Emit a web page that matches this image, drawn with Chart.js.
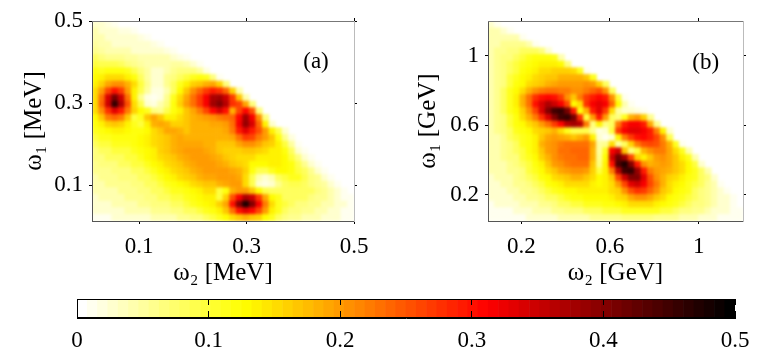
<!DOCTYPE html>
<html>
<head>
<meta charset="utf-8">
<script src="https://cdn.jsdelivr.net/npm/chart.js@4/dist/chart.umd.min.js"></script>
<style>
  body { margin: 0; background: #fff; width: 772px; height: 362px; overflow: hidden; position: relative; }
  canvas { position: absolute; }
</style>
</head>
<body>
<canvas id="panelA" width="400" height="290" style="left:0;top:0"></canvas>
<canvas id="panelB" width="372" height="290" style="left:400px;top:0"></canvas>
<canvas id="colorBar" width="772" height="77" style="left:0;top:285px"></canvas>
<script>
// cell centres
var omega2A = [.0186,.0308,.043,.0552,.0674,.0795,.0917,.1039,.1161,.1283,.1405,.1527,.1648,.177,.1892,.2014,.2136,.2258,.238,.2502,.2623,.2745,.2867,.2989,.3111,.3233,.3355,.3477,.3598,.372,.3842,.3964,.4086,.4208,.433,.4452,.4573,.4695,.4817,.4939];
var omega1A = [.4919,.4756,.4594,.4431,.4269,.4106,.3944,.3781,.3619,.3456,.3294,.3131,.2969,.2806,.2644,.2481,.2319,.2156,.1994,.1831,.1669,.1506,.1344,.1181,.1019,.0856,.0694,.0531,.0369,.0206];
var omega2B = [.0644,.0931,.1219,.1506,.1794,.2081,.2369,.2656,.2944,.3231,.3519,.3806,.4094,.4381,.4669,.4956,.5244,.5531,.5819,.6106,.6394,.6681,.6969,.7256,.7544,.7831,.8119,.8406,.8694,.8981,.9269,.9556,.9844,1.0131,1.0419,1.0706,1.0994,1.1281,1.1569,1.1856];
var omega1B = [1.1808,1.1425,1.1042,1.0658,1.0275,.9892,.9508,.9125,.8742,.8358,.7975,.7592,.7208,.6825,.6442,.6058,.5675,.5292,.4908,.4525,.4142,.3758,.3375,.2992,.2608,.2225,.1842,.1458,.1075,.0692];

// estimated intensity in units of 0.01, top row first, rows stop at the white edge
var intensityA = [
  [3,3,2,1],
  [4,3,3,3,2,2,1],
  [4,4,3,3,3,3,3,2,1],
  [5,4,4,3,3,3,3,3,3,2,1],
  [6,5,4,4,4,4,3,3,3,3,3,2,1],
  [8,7,6,6,6,5,5,4,4,4,4,4,3,2,1],
  [10,9,9,9,8,7,6,5,4,4,4,4,5,5,4,3,1],
  [12,11,12,12,12,11,9,7,5,3,3,4,6,7,7,7,5,2],
  [13,14,15,15,15,14,12,8,5,3,3,6,7,8,10,11,12,11,7,1],
  [14,16,19,21,21,18,15,10,6,3,3,6,8,11,14,16,17,18,19,16,7],
  [15,20,26,30,27,20,14,9,5,2,2,4,8,13,17,21,24,27,29,28,24,16,4],
  [15,23,34,41,35,23,14,6,2,1,2,6,11,15,19,23,27,32,37,38,35,27,17,4],
  [15,24,35,46,37,25,15,9,3,2,4,7,12,16,20,23,27,32,38,40,36,28,26,19,7],
  [15,21,28,33,29,22,16,13,11,7,6,9,12,14,17,19,22,26,31,34,30,18,26,31,25,7],
  [13,17,22,24,22,17,10,11,17,19,17,14,14,15,17,18,19,20,21,22,23,24,31,38,32,21,7],
  [12,14,16,17,16,14,11,10,14,18,19,18,16,16,17,18,18,18,19,19,20,23,32,39,34,24,14,3],
  [11,12,13,14,14,13,12,12,13,15,17,19,19,18,17,18,18,18,18,18,19,22,29,33,29,25,20,14,9,3],
  [10,11,11,12,12,12,12,13,14,15,16,17,18,19,18,18,18,18,18,18,18,19,23,27,26,22,20,17,12,6,2],
  [8,10,10,11,11,11,12,13,14,15,16,17,18,19,19,19,19,18,18,17,17,17,19,21,21,19,17,16,14,10,5,1],
  [7,8,8,10,10,10,11,12,13,14,16,17,18,19,20,20,20,19,18,17,16,16,16,17,17,16,15,14,14,12,8,3,1],
  [7,7,8,8,8,10,10,11,13,14,15,16,17,18,19,20,20,20,19,18,17,16,15,15,15,14,14,14,14,13,10,7,3,1],
  [6,7,7,7,8,8,10,10,11,13,14,15,16,17,18,19,20,20,20,19,18,17,16,15,13,13,13,14,14,13,12,9,6,3,1],
  [6,6,6,7,7,7,8,8,10,11,13,14,15,16,17,18,19,20,20,20,20,19,18,16,12,9,9,11,13,13,12,10,8,6,3,1],
  [4,6,6,6,7,7,7,8,8,10,11,13,14,15,16,17,18,19,19,20,20,20,19,15,9,4,3,4,8,10,11,11,9,7,6,3,1],
  [4,4,6,6,6,6,7,7,8,8,10,11,12,13,14,15,16,17,17,18,19,20,20,15,9,3,2,3,6,8,9,9,8,7,6,5,3,1],
  [4,4,4,4,6,6,6,7,7,8,8,10,11,11,12,13,14,15,15,10,12,18,20,20,17,13,9,8,8,8,8,8,8,8,7,6,4,3,1],
  [3,4,4,4,4,6,6,6,7,7,8,8,10,10,11,12,13,14,14,10,16,25,32,37,35,27,19,13,11,8,8,8,8,7,6,6,4,3,1,1],
  [3,3,3,4,4,4,4,6,6,7,7,7,8,8,10,11,12,13,14,16,19,30,40,47,40,32,22,15,11,10,8,7,7,6,6,4,4,3,3,1],
  [3,3,3,3,3,4,4,4,4,6,6,6,7,7,8,8,10,11,12,14,17,23,30,33,31,26,20,14,11,8,7,7,6,6,4,4,3,3,1,1],
  [1,1,1,3,3,3,3,3,3,4,4,4,4,6,6,7,7,8,10,11,13,15,17,18,17,16,13,11,8,7,6,6,4,4,4,3,3,3,1,1]
];
var intensityB = [
  [3,1],
  [4,4,3,1],
  [4,4,4,4,4,1],
  [4,4,6,6,6,6,4,1],
  [4,6,6,7,7,8,8,8,7,3],
  [4,6,7,7,8,10,11,12,12,12,11,4],
  [4,6,7,8,10,11,12,13,14,14,14,13,7],
  [4,6,7,8,10,12,13,14,15,15,16,16,16,15,11,1],
  [4,6,7,10,11,13,14,15,16,17,17,18,18,18,18,17,11],
  [4,6,7,10,12,13,15,16,17,18,19,20,20,20,20,21,20,16,8],
  [4,6,8,11,13,15,18,21,22,23,23,22,22,21,21,22,24,25,21,8],
  [4,6,8,11,14,18,23,28,30,31,30,27,21,17,22,27,29,31,29,21,10,1],
  [4,6,8,11,14,18,23,30,34,37,35,32,26,13,15,28,32,33,32,24,13,4,1],
  [4,6,8,11,13,16,21,26,34,40,45,46,41,29,12,18,29,33,27,15,5,3,3,2,1],
  [4,6,7,10,12,15,18,22,28,34,40,45,46,41,28,10,20,29,20,8,7,11,18,20,16,6],
  [4,6,7,10,12,13,15,17,20,23,27,31,36,38,36,22,7,14,7,8,22,29,32,32,29,19,6],
  [4,6,7,8,11,12,13,15,16,17,18,15,11,9,9,9,6,2,3,10,27,32,33,33,32,29,22,14,3],
  [4,4,6,8,10,11,12,14,17,19,20,19,18,17,18,20,14,3,1,3,14,22,27,30,31,29,26,21,9],
  [4,4,6,7,8,11,12,14,18,20,21,22,23,23,23,23,19,5,6,15,5,8,16,22,25,26,25,22,18,11,1],
  [4,4,6,7,8,10,12,14,17,20,21,23,23,24,24,24,18,5,11,32,35,17,7,10,18,21,22,22,19,15,11,4],
  [4,4,6,7,7,10,11,13,16,18,21,22,23,23,24,24,18,6,13,35,42,38,26,16,14,17,20,21,19,17,14,11,4],
  [4,4,4,6,7,8,10,12,14,17,20,21,22,23,23,23,17,7,14,30,44,47,40,29,21,18,19,20,19,17,15,13,10,3],
  [4,4,4,6,6,7,10,11,13,15,17,19,20,21,21,20,16,10,14,22,36,45,46,39,29,22,20,19,18,17,15,13,11,8,4],
  [3,4,4,4,6,7,8,10,12,13,15,16,17,18,18,17,15,13,14,17,26,35,40,40,33,25,21,18,16,15,14,12,11,8,7,3],
  [3,3,4,4,6,6,7,8,10,12,13,14,15,15,15,15,14,13,14,15,20,26,33,35,32,26,22,18,15,14,13,11,10,8,6,4,1],
  [3,3,3,4,4,6,6,7,8,10,11,12,13,13,14,14,14,14,14,15,16,21,25,28,27,24,21,17,15,13,12,11,8,7,6,4,3,1],
  [3,3,3,3,4,4,6,6,7,8,8,10,11,12,12,13,13,13,13,14,15,16,19,21,21,19,17,15,13,12,11,10,8,7,6,4,3,3,1],
  [1,3,3,3,3,4,4,4,6,6,7,8,8,10,10,11,11,11,12,12,13,14,15,15,15,15,14,13,12,11,10,8,7,7,6,4,3,3,1],
  [1,1,1,1,3,3,3,4,4,4,6,6,7,7,7,8,8,8,10,10,10,11,11,11,11,11,11,10,10,8,7,7,6,6,4,3,3,3,1,1],
  [1,1,1,1,1,1,3,3,3,3,3,4,4,4,4,4,6,6,6,6,6,7,7,7,7,7,6,6,6,6,4,4,4,3,3,3,1,1,1,1]
];

var ticksA = [0.1, 0.3, 0.5];
var ticksB = [0.2, 0.6, 1];
var ticksBar = [0, 0.1, 0.2, 0.3, 0.4, 0.5];
var barLevels = [.0039,.0117,.0195,.0273,.0352,.043,.0508,.0586,.0664,.0742,.082,.0898,.0977,.1055,.1133,.1211,.1289,.1367,.1445,.1523,.1602,.168,.1758,.1836,.1914,.1992,.207,.2148,.2227,.2305,.2383,.2461,.2539,.2617,.2695,.2773,.2852,.293,.3008,.3086,.3164,.3242,.332,.3398,.3477,.3555,.3633,.3711,.3789,.3867,.3945,.4023,.4102,.418,.4258,.4336,.4414,.4492,.457,.4648,.4727,.4805,.4883,.4961];

var serif = 'Liberation Serif';
Chart.defaults.font.family = serif;
Chart.defaults.color = '#000';

// flipped "hot" map, 64 levels like the colorbar
function hotColor(v) {
    var t = Math.min(63, Math.floor(v / 0.5 * 64)) / 63;
    var r, g, b;
    if (t < 0.25) { r = 255; g = 255; b = 255 * (1 - t / 0.25); }
    else if (t < 0.625) { r = 255; g = 255 * (1 - (t - 0.25) / 0.375); b = 0; }
    else { r = 255 * (1 - (t - 0.625) / 0.375); g = 0; b = 0; }
    return 'rgb(' + Math.round(r) + ',' + Math.round(g) + ',' + Math.round(b) + ')';
}

function cells(xs, ys, rows) {
    var out = [];
    rows.forEach(function (row, i) {
        row.forEach(function (v, j) {
            out.push({ x: xs[j], y: ys[i], v: v / 100 });
        });
    });
    return out;
}

// soften the cells only, axes are drawn after this (z: 1)
var smoothCells = {
    id: 'smoothCells',
    afterDatasetsDraw: function (chart) {
        var a = chart.chartArea, ctx = chart.ctx, cv = chart.canvas;
        var copy = document.createElement('canvas');
        copy.width = cv.width;
        copy.height = cv.height;
        copy.getContext('2d').drawImage(cv, 0, 0);
        ctx.save();
        ctx.setTransform(1, 0, 0, 1, 0, 0);
        ctx.clearRect(0, 0, cv.width, cv.height);
        ctx.beginPath();
        ctx.rect(a.left, a.top, a.right - a.left, a.bottom - a.top);
        ctx.clip();
        ctx.filter = 'blur(1.8px)';
        ctx.drawImage(copy, 0, 0);
        ctx.restore();
    }
};

var panelLabel = {
    id: 'panelLabel',
    afterDraw: function (chart, args, opts) {
        var ctx = chart.ctx;
        ctx.save();
        ctx.font = '23px "' + serif + '"';
        ctx.fillStyle = '#000';
        ctx.textAlign = 'center';
        ctx.textBaseline = 'middle';
        ctx.fillText(opts.text, chart.scales.x.getPixelForValue(opts.x), chart.scales.y.getPixelForValue(opts.y));
        ctx.restore();
    }
};

function fixedTicks(values) {
    return function (scale) {
        scale.ticks = values.map(function (v) { return { value: v }; });
    };
}

function axis(position, min, max, values, color, size, title) {
    var shown = !!title;
    return {
        type: 'linear',
        position: position,
        min: min,
        max: max,
        afterBuildTicks: fixedTicks(values),
        afterFit: function (scale) {
            if (position === 'left' || position === 'right') scale.width = size;
            else scale.height = size;
        },
        grid: { drawOnChartArea: false, tickLength: 3, tickColor: '#000', z: 1 },
        border: { color: color, z: 1 },
        ticks: {
            display: shown,
            autoSkip: false,
            maxRotation: 0,
            padding: position === 'left' ? 6 : 9,
            font: { size: 23 },
            z: 1,
            callback: function (v) { return String(v); }
        },
        title: { display: shown, text: title, font: { size: 25 }, padding: 0 }
    };
}

function heatPanel(id, xs, ys, rows, range, ticks, unit, label, padding, yWidth) {
    return new Chart(document.getElementById(id), {
        type: 'scatter',
        data: {
            datasets: [{
                data: cells(xs, ys, rows),
                clip: false,
                pointStyle: 'rect',
                pointRadius: 5.1,
                pointBorderWidth: 0,
                pointBackgroundColor: function (c) { return c.raw ? hotColor(c.raw.v) : '#fff'; }
            }]
        },
        options: {
            responsive: false,
            animation: false,
            events: [],
            layout: { padding: padding },
            plugins: { legend: { display: false }, tooltip: { enabled: false }, panelLabel: label },
            scales: {
                x: axis('bottom', range[0], range[1], ticks, '#555', 67, '\u03c9\u2082 [' + unit + ']'),
                y: axis('left', range[0], range[1], ticks, '#555', yWidth, '\u03c9\u2081 [' + unit + ']'),
                xTop: axis('top', range[0], range[1], ticks, '#777', 3),
                yRight: axis('right', range[0], range[1], ticks, '#bbb', 3)
            }
        },
        plugins: [smoothCells, panelLabel]
    });
}

heatPanel('panelA', omega2A, omega1A, intensityA, [0.0125, 0.5], ticksA, 'MeV',
    { text: '(a)', x: 0.4293, y: 0.4 },
    { left: 19, right: 43, top: 18, bottom: 2 }, 73);

heatPanel('panelB', omega2B, omega1B, intensityB, [0.05, 1.2], ticksB, 'GeV',
    { text: '(b)', x: 1.032, y: 0.96 },
    { left: 13, right: 26, top: 18, bottom: 2 }, 75);

new Chart(document.getElementById('colorBar'), {
    type: 'bar',
    data: {
        datasets: [{
            data: barLevels.map(function (v) { return { x: v, y: 1 }; }),
            backgroundColor: barLevels.map(hotColor),
            borderWidth: 0,
            barPercentage: 1,
            categoryPercentage: 1
        }]
    },
    options: {
        responsive: false,
        animation: false,
        events: [],
        layout: { padding: { left: 77, right: 37, top: 14, bottom: 4 } },
        plugins: { legend: { display: false }, tooltip: { enabled: false } },
        scales: {
            x: {
                type: 'linear',
                offset: false,
                min: 0,
                max: 0.5,
                afterBuildTicks: fixedTicks(ticksBar),
                afterFit: function (scale) { scale.height = 40; },
                grid: { offset: false, color: '#000', drawTicks: false, z: 1 },
                border: { color: '#000', dash: [6, 6, 7], z: 1 },
                ticks: {
                    autoSkip: false,
                    maxRotation: 0,
                    padding: 9,
                    font: { size: 23 },
                    z: 1,
                    callback: function (v) { return String(v); }
                }
            },
            y: { display: false, min: 0, max: 1 }
        }
    },
    plugins: [{
        id: 'barFrame',
        afterDraw: function (chart) {
            var a = chart.chartArea, ctx = chart.ctx;
            ctx.save();
            ctx.strokeStyle = '#000';
            ctx.lineWidth = 1;
            ctx.strokeRect(a.left + 0.5, a.top + 0.5, a.right - a.left - 1, a.bottom - a.top - 1);
            ctx.restore();
        }
    }]
});
</script>
</body>
</html>
